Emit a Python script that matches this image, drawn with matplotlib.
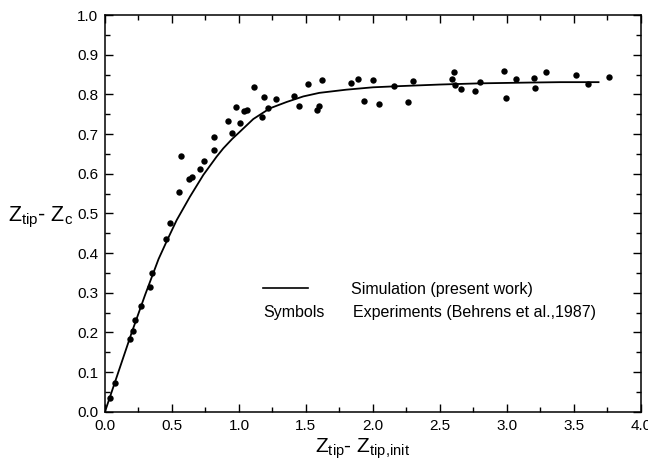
import numpy as np
import matplotlib
matplotlib.use("Agg")
import matplotlib.pyplot as plt
from matplotlib.ticker import MultipleLocator

plt.rcParams['font.family'] = ['Liberation Sans', 'DejaVu Sans']
plt.rcParams['mathtext.default'] = 'regular'

# === DATA ===
exp_x = [0.037, 0.072, 0.189, 0.207, 0.222, 0.266, 0.333, 0.353, 0.455, 0.487,
         0.552, 0.567, 0.627, 0.652, 0.709, 0.739, 0.811, 0.816, 0.918, 0.945,
         0.975, 1.005, 1.037, 1.057, 1.114, 1.172, 1.189, 1.214, 1.279, 1.408,
         1.448, 1.515, 1.585, 1.597, 1.619, 1.833, 1.891, 1.930, 2.003, 2.045,
         2.155, 2.261, 2.296, 2.590, 2.604, 2.614, 2.654, 2.764, 2.796, 2.975,
         2.993, 3.065, 3.199, 3.211, 3.291, 3.517, 3.607, 3.763]
exp_y = [0.035, 0.073, 0.184, 0.203, 0.232, 0.267, 0.314, 0.349, 0.435, 0.476,
         0.554, 0.644, 0.588, 0.593, 0.611, 0.632, 0.692, 0.660, 0.734, 0.703,
         0.769, 0.728, 0.759, 0.762, 0.820, 0.742, 0.794, 0.765, 0.788, 0.796,
         0.770, 0.827, 0.762, 0.772, 0.837, 0.829, 0.840, 0.784, 0.836, 0.776,
         0.821, 0.782, 0.834, 0.839, 0.857, 0.823, 0.813, 0.808, 0.832, 0.859,
         0.791, 0.840, 0.842, 0.817, 0.857, 0.848, 0.826, 0.845]

sim_x = [0.0, 0.1, 0.2, 0.3, 0.4, 0.465, 0.535, 0.634, 0.734, 0.833, 0.883,
         0.95, 1.007, 1.107, 1.231, 1.356, 1.48, 1.6, 1.8, 2.0, 2.2, 2.5,
         2.8, 3.17, 3.4, 3.684]
sim_y = [0.0, 0.1, 0.2, 0.295, 0.385, 0.433, 0.483, 0.542, 0.597, 0.643, 0.664,
         0.688, 0.706, 0.738, 0.765, 0.781, 0.795, 0.804, 0.812, 0.818, 0.821, 0.825,
         0.828, 0.830, 0.831, 0.831]

# === FIGURE ===
fig = plt.figure(figsize=(6.48, 4.73), dpi=100)
ax = fig.add_axes([0.162, 0.1296, 0.827, 0.8384])

ax.plot(sim_x, sim_y, color='black', lw=1.3)
ax.plot(exp_x, exp_y, 'o', color='black', ms=4.6, mec='none')

ax.set_xlim(0, 4)
ax.set_ylim(0, 1)
ax.xaxis.set_major_locator(MultipleLocator(0.5))
ax.xaxis.set_minor_locator(MultipleLocator(0.25))
ax.yaxis.set_major_locator(MultipleLocator(0.1))
ax.yaxis.set_minor_locator(MultipleLocator(0.05))
ax.xaxis.set_major_formatter(plt.FormatStrFormatter('%.1f'))
ax.yaxis.set_major_formatter(plt.FormatStrFormatter('%.1f'))

ax.tick_params(which='both', direction='in', top=True, right=True,
               labelsize=11, width=1.0, pad=5)
ax.tick_params(which='major', length=6)
ax.tick_params(which='minor', length=3.5)
for s in ax.spines.values():
    s.set_linewidth(1.1)

# axis labels
fig.text(0.012, 0.531, r'$Z_{tip}$- $Z_c$', fontsize=15.5, ha='left', va='baseline')
fig.text(0.486, 0.042, r'$Z_{tip}$- $Z_{tip,\!init}$', fontsize=15, ha='left', va='baseline')

# legend drawn by hand
ax.plot([0.295, 0.379], [0.311, 0.311], color='black', lw=1.2, transform=ax.transAxes)
ax.text(0.460, 0.307, 'Simulation (present work)', transform=ax.transAxes,
        fontsize=11.5, va='center', ha='left')
ax.text(0.295, 0.249, 'Symbols', transform=ax.transAxes,
        fontsize=11.5, va='center', ha='left')
ax.text(0.463, 0.249, 'Experiments (Behrens et al.,1987)', transform=ax.transAxes,
        fontsize=11.5, va='center', ha='left')

fig.savefig('out.png', dpi=100)
